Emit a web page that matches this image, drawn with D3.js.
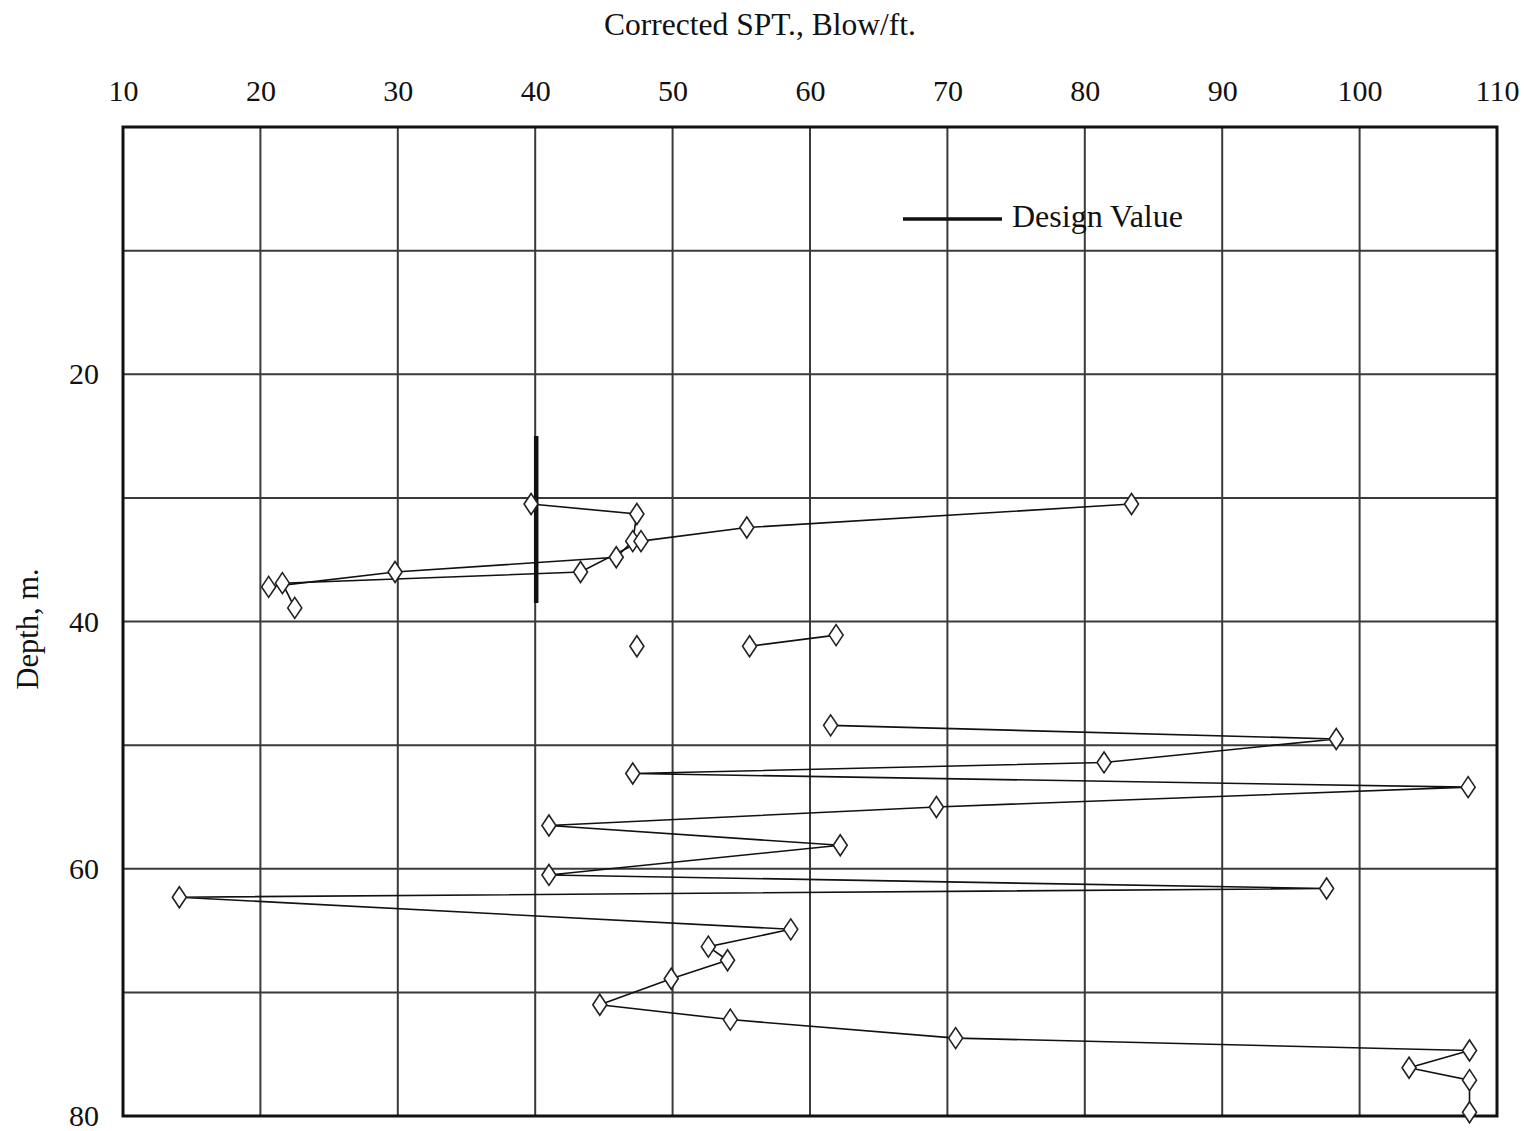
<!DOCTYPE html>
<html>
<head>
<meta charset="utf-8">
<script src="https://cdn.jsdelivr.net/npm/d3@7"></script>
<style>
  body { margin: 0; background: #ffffff; }
  text { font-family: "Liberation Serif", "Times New Roman", serif; fill: #111; }
</style>
</head>
<body>
<div id="chart"></div>
<script>
// SPT readings (blow/ft) and depths (m), one array pair per connected run
var run1Spt   = [39.7, 47.4, 47.1, 45.9, 29.8, 20.6];
var run1Depth = [30.5, 31.3, 33.5, 34.8, 36.0, 37.2];

var run2Spt   = [83.4, 55.4, 47.7, 43.3, 21.6, 22.5];
var run2Depth = [30.5, 32.4, 33.5, 36.0, 36.9, 38.9];

var run3Spt   = [47.4];
var run3Depth = [42.0];

var run4Spt   = [55.6, 61.9];
var run4Depth = [42.0, 41.1];

var run5Spt   = [61.5, 98.3, 81.4, 47.1, 107.9, 69.2, 41.0, 62.2, 41.0, 97.6, 14.1,
                 58.6, 52.6, 54.0, 49.9, 44.7, 54.2, 70.6, 108.0, 103.6, 108.0, 108.0];
var run5Depth = [48.4, 49.5, 51.4, 52.3, 53.4, 55.0, 56.5, 58.1, 60.5, 61.6, 62.3,
                 64.9, 66.3, 67.4, 68.9, 71.0, 72.2, 73.7, 74.7, 76.1, 77.1, 79.7];

var designSpt = 40;
var designDepth = [25, 38.5];

var xTicks = [10, 20, 30, 40, 50, 60, 70, 80, 90, 100, 110];
var yGrid = [0, 10, 20, 30, 40, 50, 60, 70, 80];
var yLabels = [20, 40, 60, 80];

function drawChart() {
  var margin = { top: 127, right: 27, bottom: 15, left: 123 };
  var fullW = 1524, fullH = 1131;
  var width = fullW - margin.left - margin.right,
      height = fullH - margin.top - margin.bottom;

  var runs = [
    d3.zip(run1Spt, run1Depth),
    d3.zip(run2Spt, run2Depth),
    d3.zip(run3Spt, run3Depth),
    d3.zip(run4Spt, run4Depth),
    d3.zip(run5Spt, run5Depth)
  ];

  var xScale = d3.scaleLinear().domain([10, 110]).range([0, width]);
  var yScale = d3.scaleLinear().domain([0, 80]).range([0, height]);

  var svg = d3.select('#chart').append('svg')
    .attr('width', fullW)
    .attr('height', fullH)
    .style('background', '#ffffff');

  var g = svg.append('g')
    .attr('transform', 'translate(' + margin.left + ',' + margin.top + ')');

  // grid
  g.append('g').selectAll('line').data(xTicks.slice(1, -1))
    .enter().append('line')
    .attr('x1', function(d) { return xScale(d); })
    .attr('x2', function(d) { return xScale(d); })
    .attr('y1', 0).attr('y2', height)
    .attr('stroke', '#3a3a3a').attr('stroke-width', 2);

  g.append('g').selectAll('line').data(yGrid.slice(1, -1))
    .enter().append('line')
    .attr('y1', function(d) { return yScale(d); })
    .attr('y2', function(d) { return yScale(d); })
    .attr('x1', 0).attr('x2', width)
    .attr('stroke', '#3a3a3a').attr('stroke-width', 2);

  // axes (labels only)
  var xAxis = d3.axisTop(xScale).tickValues(xTicks).tickSize(0).tickPadding(26);
  var xG = g.append('g').call(xAxis);
  xG.select('.domain').remove();
  xG.selectAll('text')
    .style('font-family', '"Liberation Serif", serif')
    .style('font-size', '30px')
    .attr('fill', '#111');

  var yAxis = d3.axisLeft(yScale).tickValues(yLabels).tickSize(0).tickPadding(24);
  var yG = g.append('g').call(yAxis);
  yG.select('.domain').remove();
  yG.selectAll('text')
    .style('font-family', '"Liberation Serif", serif')
    .style('font-size', '30px')
    .attr('fill', '#111');

  // frame
  g.append('rect')
    .attr('width', width).attr('height', height)
    .attr('fill', 'none').attr('stroke', '#111').attr('stroke-width', 3);

  // design value
  g.append('line')
    .attr('x1', xScale(designSpt) + 1).attr('x2', xScale(designSpt) + 1)
    .attr('y1', yScale(designDepth[0])).attr('y2', yScale(designDepth[1]))
    .attr('stroke', '#111').attr('stroke-width', 4.5);

  var line = d3.line()
    .x(function(d) { return xScale(d[0]); })
    .y(function(d) { return yScale(d[1]); });

  g.append('g').selectAll('path').data(runs)
    .enter().append('path')
    .attr('d', line)
    .attr('fill', 'none')
    .attr('stroke', '#111')
    .attr('stroke-width', 1.6);

  var allPts = [].concat.apply([], runs);
  var dw = 7, dh = 10.5;
  g.append('g').selectAll('path').data(allPts)
    .enter().append('path')
    .attr('d', 'M0,' + (-dh) + 'L' + dw + ',0L0,' + dh + 'L' + (-dw) + ',0Z')
    .attr('transform', function(d) { return 'translate(' + xScale(d[0]) + ',' + yScale(d[1]) + ')'; })
    .attr('fill', '#ffffff')
    .attr('stroke', '#222')
    .attr('stroke-width', 1.6);

  // legend
  svg.append('line')
    .attr('x1', 903).attr('x2', 1002).attr('y1', 219).attr('y2', 219)
    .attr('stroke', '#111').attr('stroke-width', 3.5);
  svg.append('text')
    .attr('x', 1012).attr('y', 227)
    .style('font-size', '32px')
    .text('Design Value');

  // titles
  svg.append('text')
    .attr('x', 760).attr('y', 35)
    .attr('text-anchor', 'middle')
    .style('font-size', '31.5px')
    .text('Corrected SPT., Blow/ft.');

  svg.append('text')
    .attr('transform', 'translate(38,629) rotate(-90)')
    .attr('text-anchor', 'middle')
    .style('font-size', '30.5px')
    .text('Depth, m.');
}

drawChart();
</script>
</body>
</html>
